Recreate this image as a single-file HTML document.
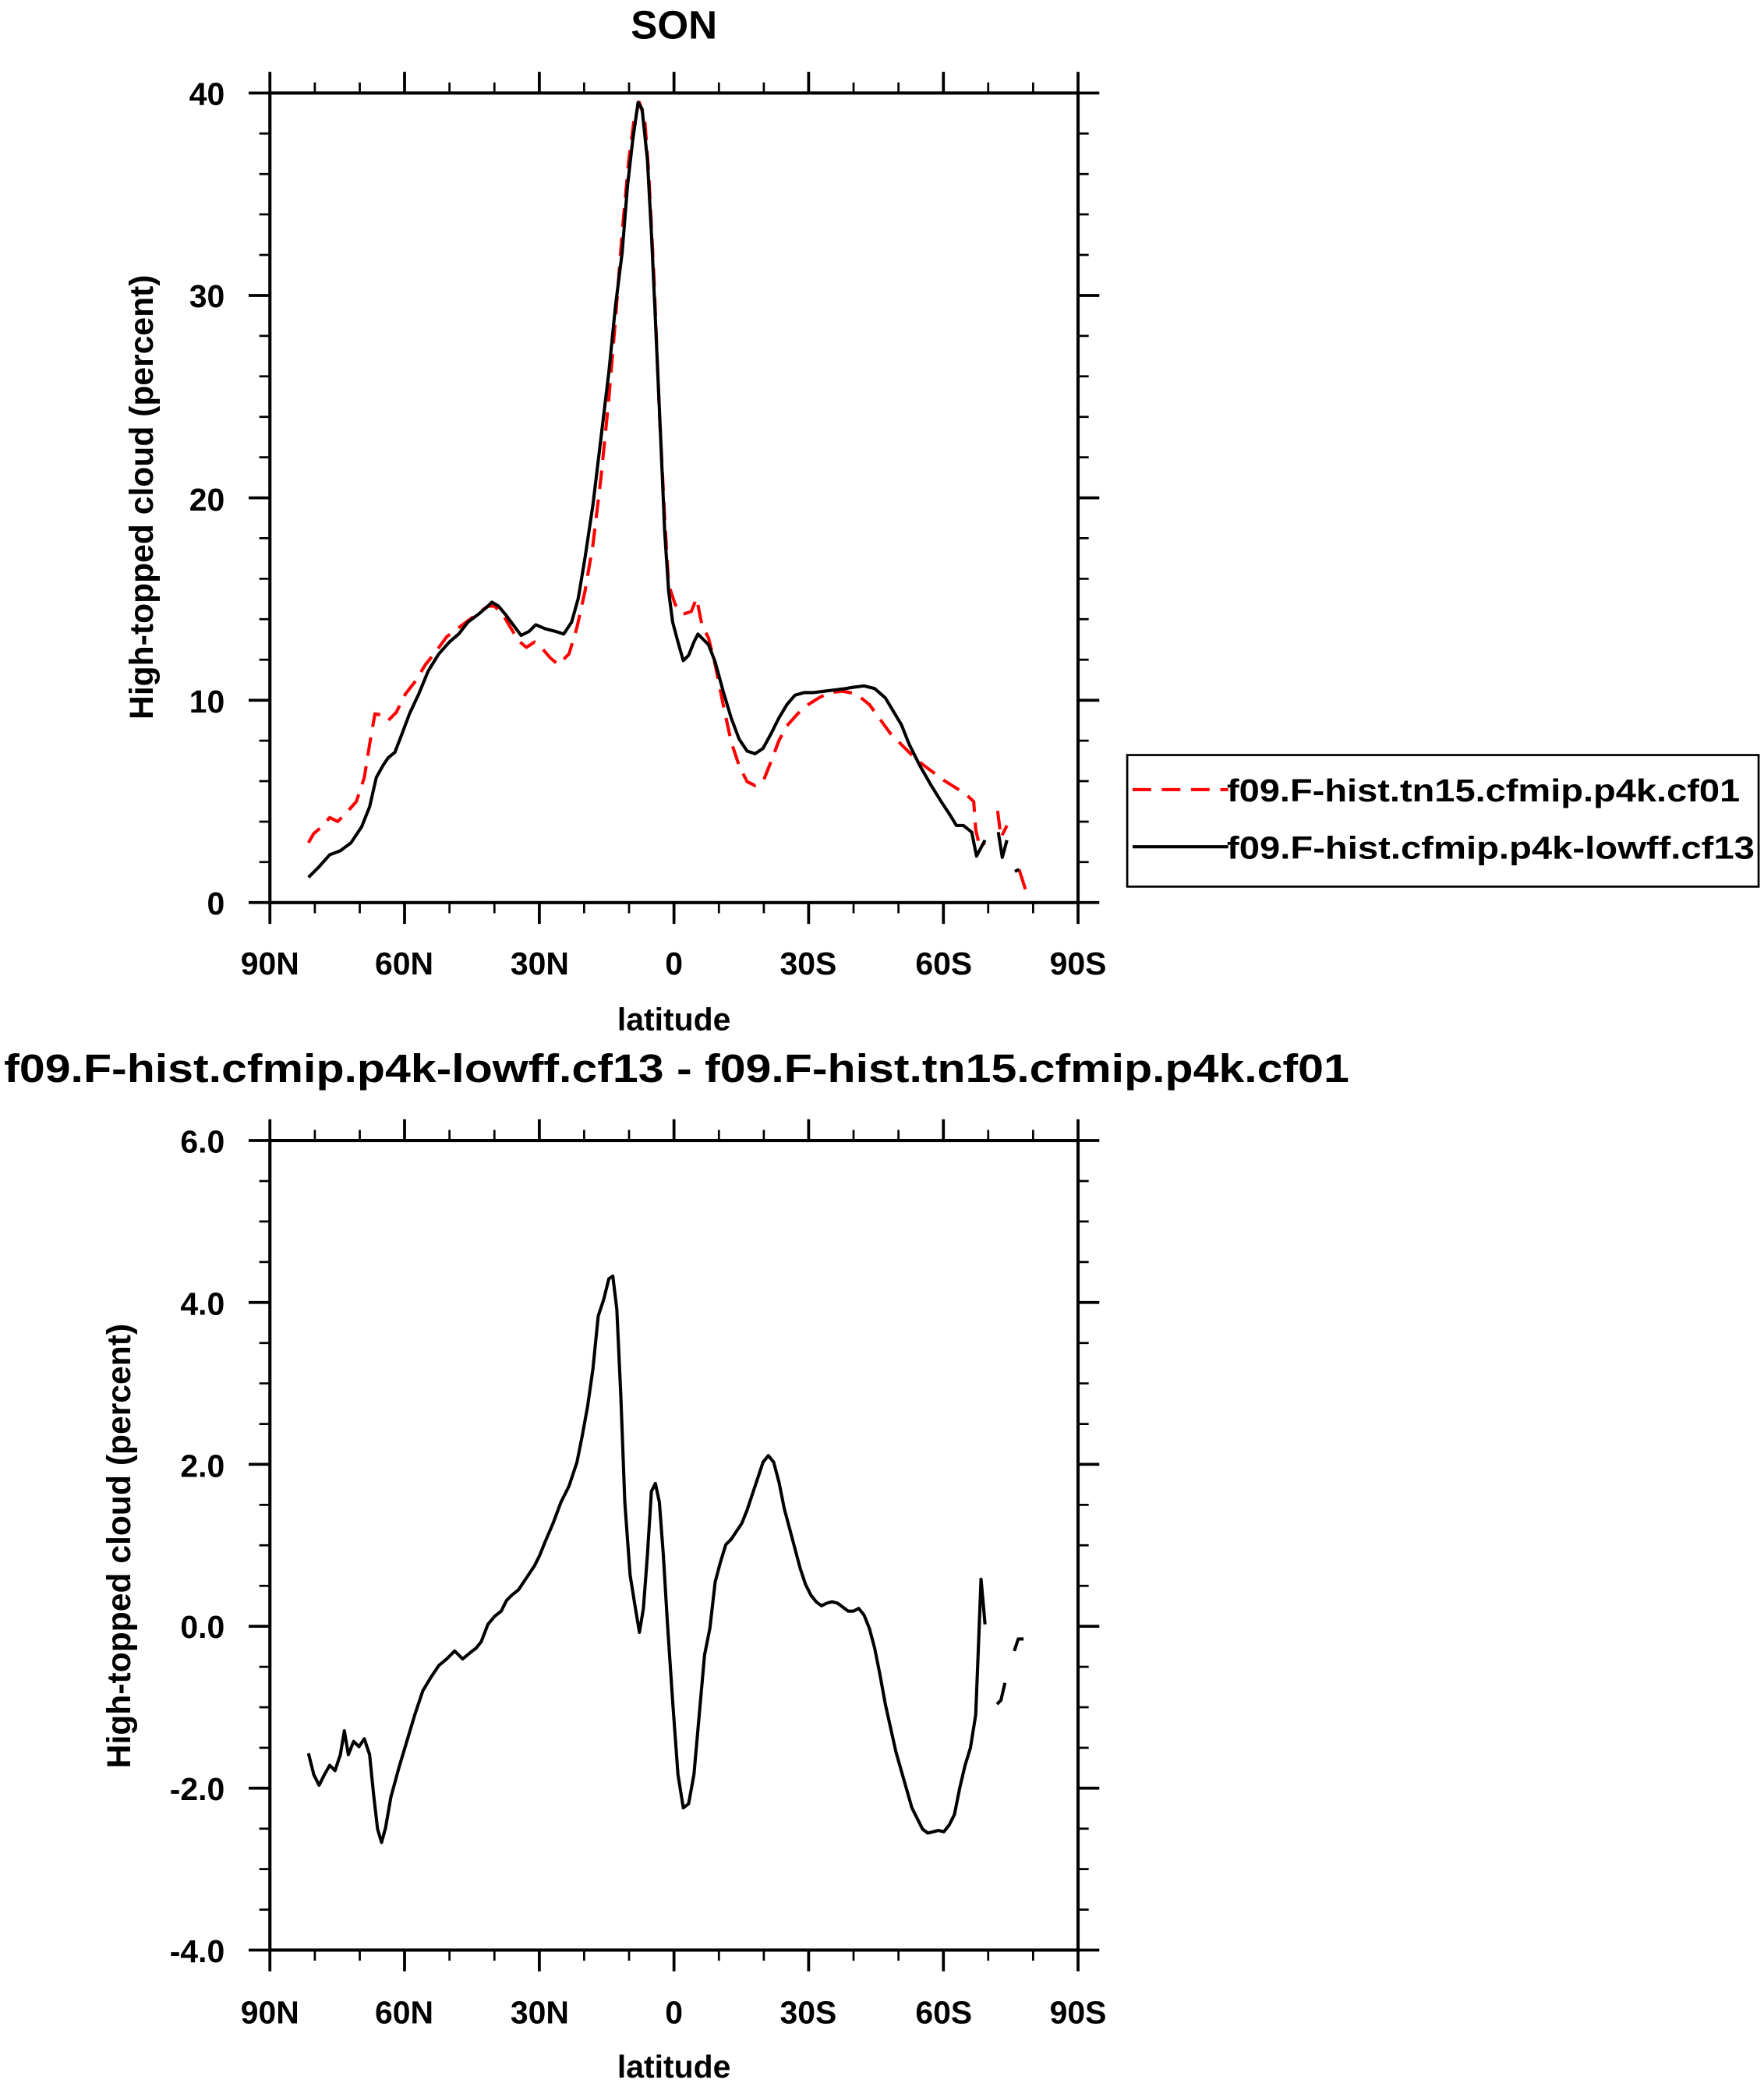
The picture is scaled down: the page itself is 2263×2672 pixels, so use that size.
<!DOCTYPE html>
<html><head><meta charset="utf-8"><style>
html,body{margin:0;padding:0;background:#fff;}
svg{display:block;}
text{font-family:"Liberation Sans",sans-serif;font-weight:bold;fill:#000;}
</style></head><body>
<svg width="2263" height="2672" viewBox="0 0 1327 1567" xmlns="http://www.w3.org/2000/svg">
<rect width="1327" height="1567" fill="#fff"/>
<g id="axes" stroke="#000" fill="none" stroke-linecap="butt">
<rect x="203" y="70" width="608" height="609" stroke-width="2.4"/>
<path stroke-width="2.2" d="
M203,679v16 M304.3,679v16 M405.7,679v16 M507,679v16 M608.3,679v16 M709.7,679v16 M811,679v16
M203,70v-16 M304.3,70v-16 M405.7,70v-16 M507,70v-16 M608.3,70v-16 M709.7,70v-16 M811,70v-16
M203,679h-16 M203,526.75h-16 M203,374.5h-16 M203,222.25h-16 M203,70h-16
M811,679h16 M811,526.75h16 M811,374.5h16 M811,222.25h16 M811,70h16"/>
<path stroke-width="1.6" d="
M236.8,679v8 M270.6,679v8 M338.1,679v8 M371.9,679v8 M439.4,679v8 M473.2,679v8 M540.8,679v8 M574.6,679v8 M642.1,679v8 M675.9,679v8 M743.4,679v8 M777.2,679v8
M236.8,70v-8 M270.6,70v-8 M338.1,70v-8 M371.9,70v-8 M439.4,70v-8 M473.2,70v-8 M540.8,70v-8 M574.6,70v-8 M642.1,70v-8 M675.9,70v-8 M743.4,70v-8 M777.2,70v-8
M203,648.5h-8 M203,618.1h-8 M203,587.6h-8 M203,557.2h-8 M203,496.3h-8 M203,465.8h-8 M203,435.4h-8 M203,404.9h-8 M203,344h-8 M203,313.6h-8 M203,283.1h-8 M203,252.7h-8 M203,191.8h-8 M203,161.3h-8 M203,130.9h-8 M203,100.4h-8
M811,648.5h8 M811,618.1h8 M811,587.6h8 M811,557.2h8 M811,496.3h8 M811,465.8h8 M811,435.4h8 M811,404.9h8 M811,344h8 M811,313.6h8 M811,283.1h8 M811,252.7h8 M811,191.8h8 M811,161.3h8 M811,130.9h8 M811,100.4h8"/>
<rect x="203" y="858" width="608" height="609" stroke-width="2.4"/>
<path stroke-width="2.2" d="
M203,1467v16 M304.3,1467v16 M405.7,1467v16 M507,1467v16 M608.3,1467v16 M709.7,1467v16 M811,1467v16
M203,858v-16 M304.3,858v-16 M405.7,858v-16 M507,858v-16 M608.3,858v-16 M709.7,858v-16 M811,858v-16
M203,1467h-16 M203,1345.2h-16 M203,1223.4h-16 M203,1101.6h-16 M203,979.8h-16 M203,858h-16
M811,1467h16 M811,1345.2h16 M811,1223.4h16 M811,1101.6h16 M811,979.8h16 M811,858h16"/>
<path stroke-width="1.6" d="
M236.8,1467v8 M270.6,1467v8 M338.1,1467v8 M371.9,1467v8 M439.4,1467v8 M473.2,1467v8 M540.8,1467v8 M574.6,1467v8 M642.1,1467v8 M675.9,1467v8 M743.4,1467v8 M777.2,1467v8
M236.8,858v-8 M270.6,858v-8 M338.1,858v-8 M371.9,858v-8 M439.4,858v-8 M473.2,858v-8 M540.8,858v-8 M574.6,858v-8 M642.1,858v-8 M675.9,858v-8 M743.4,858v-8 M777.2,858v-8
M203,1436.6h-8 M203,1406.1h-8 M203,1375.7h-8 M203,1314.8h-8 M203,1284.3h-8 M203,1253.9h-8 M203,1193h-8 M203,1162.5h-8 M203,1132.1h-8 M203,1071.2h-8 M203,1040.7h-8 M203,1010.3h-8 M203,949.4h-8 M203,918.9h-8 M203,888.5h-8
M811,1436.6h8 M811,1406.1h8 M811,1375.7h8 M811,1314.8h8 M811,1284.3h8 M811,1253.9h8 M811,1193h8 M811,1162.5h8 M811,1132.1h8 M811,1071.2h8 M811,1040.7h8 M811,1010.3h8 M811,949.4h8 M811,918.9h8 M811,888.5h8"/>
</g>

<g fill="none" stroke-width="2.4" stroke-linejoin="round">
<polyline stroke="#f00" stroke-dasharray="14,8" points="232,634 236,627 242,622 248,615 254,618 260,612 268,603 274,585 278,560 282,537 288,538 292,542 298,536 305,522 312,513 320,500 328,490 336,479 344,473 352,467 360,461 367,456 372,456 378,462 384,472 390,482 396,487 402,483 408,488 414,495 420,500 428,492 434,472 440,445 446,410 452,360 458,300 463,240 468,175 473,120 477,90 481,77 485,90 488,130 492,210 496,310 500,390 503,440 508,455 514,462 520,460 524,450 528,470 533,480 538,500 544,530 550,558 556,576 562,588 568,591 574,588 580,573 586,557 592,546 600,537 608,530 616,525 624,521 634,520 644,522 654,530 662,541 670,552 678,560 686,568 694,575 702,581 710,587 718,592 726,597 732.5,603 734,624 737,637 741,634"/>
<polyline stroke="#f00" stroke-dasharray="14,8" points="750.5,610 753,630 757.5,621"/>
<polyline stroke="#f00" points="766.6,654 771.4,669"/>
<polyline stroke="#000" points="232,660 240,652 248,643 256,640 264,634 272,622 278,607 283,585 288,576 292,570 297,566 302,553 308,537 315,522 322,505 330,492 338,483 345,477 352,468 360,462 367,456 370,453 375,456 380,462 386,470 392,478 398,475 403,470 410,473 418,475 424,477 430,468 435,450 440,420 446,380 452,330 458,280 463,230 468,190 472,140 476,105 480,77 483,82 487,120 490,175 493,240 497,330 500,400 503,445 506,468 510,483 514,497 518,493 522,483 525,477 528,480 533,485 538,498 544,520 550,540 556,556 562,565 568,567 574,563 580,552 586,540 592,530 598,523 605,521 612,521 620,520 628,519 636,518 642,517 650,516 658,518 666,525 672,535 678,545 684,560 692,576 700,590 708,603 714,612 719.5,621 724.7,621 731,626 734.6,644 741,632"/>
<polyline stroke="#000" points="751,626 754,645 757.5,632"/>
<polyline stroke="#000" points="763.5,655.6 766.6,654"/>
</g>

<g fill="none" stroke="#000" stroke-width="2.4" stroke-linejoin="round">
<polyline points="232,1319 236,1335 240,1343 244,1335 248,1328 252,1332 256,1320 259,1302 262,1320 266,1310 270,1314 274,1308 278,1320 281,1350 284,1376 287,1386 290,1375 294,1352 300,1330 306,1310 312,1290 318,1272 324,1262 330,1253 336,1248 342,1242 348,1248 354,1243 358,1240 362,1235 367,1222 372,1216 377,1212 381,1204 385,1200 390,1196 394,1190 398,1184 402,1178 406,1170 410,1160 416,1146 422,1130 428,1118 434,1100 438,1080 442,1058 446,1030 450,990 454,978 458,962 461,960 464,985 467,1050 470,1130 474,1185 478,1210 481,1228 484,1210 487,1170 490,1122 493,1116 496,1130 499,1170 502,1220 506,1280 510,1335 514,1360 518,1357 522,1335 526,1290 530,1245 534,1225 538,1190 542,1175 546,1162 550,1158 554,1152 558,1146 562,1136 566,1124 570,1112 574,1100 578,1095 582,1100 586,1115 590,1135 594,1150 598,1165 602,1180 606,1192 610,1200 614,1205 618,1208 622,1206 626,1205 630,1206 634,1209 638,1212 642,1212 646,1210 650,1215 654,1225 658,1240 662,1260 666,1282 670,1300 674,1318 678,1332 682,1346 686,1360 690,1368 694,1376 698,1379 702,1378 706,1377 710,1378 714,1373 718,1365 722,1345 726,1328 730,1315 734,1290 736,1240 738,1188 740,1210 741,1222"/>
<polyline points="750,1282 753,1279 756,1266"/>
<polyline points="763,1242 766,1233 770,1233"/>
</g>

<rect x="848" y="568" width="475" height="99" fill="#fff" stroke="#000" stroke-width="1.6"/>
<line x1="852" y1="594" x2="924" y2="594" stroke="#f00" stroke-width="2.4" stroke-dasharray="14,8"/>
<line x1="852" y1="637" x2="924" y2="637" stroke="#000" stroke-width="2.4"/>
<text x="923" y="603" font-size="24" textLength="386" lengthAdjust="spacingAndGlyphs">f09.F-hist.tn15.cfmip.p4k.cf01</text>
<text x="923" y="646" font-size="24" textLength="397" lengthAdjust="spacingAndGlyphs">f09.F-hist.cfmip.p4k-lowff.cf13</text>

<text x="507" y="29" font-size="30" text-anchor="middle">SON</text>
<text x="509" y="814" font-size="30" text-anchor="middle" textLength="1012" lengthAdjust="spacingAndGlyphs">f09.F-hist.cfmip.p4k-lowff.cf13 - f09.F-hist.tn15.cfmip.p4k.cf01</text>

<g font-size="24" text-anchor="end">
<text x="169" y="688">0</text><text x="169" y="536">10</text><text x="169" y="384">20</text><text x="169" y="231">30</text><text x="169" y="79">40</text>
<text x="169" y="1476">-4.0</text><text x="169" y="1354">-2.0</text><text x="169" y="1232">0.0</text><text x="169" y="1111">2.0</text><text x="169" y="989">4.0</text><text x="169" y="867">6.0</text>
</g>
<g font-size="24" text-anchor="middle">
<text x="203" y="733">90N</text><text x="304" y="733">60N</text><text x="406" y="733">30N</text><text x="507" y="733">0</text><text x="608" y="733">30S</text><text x="710" y="733">60S</text><text x="811" y="733">90S</text>
<text x="507" y="775">latitude</text>
<text x="203" y="1522">90N</text><text x="304" y="1522">60N</text><text x="406" y="1522">30N</text><text x="507" y="1522">0</text><text x="608" y="1522">30S</text><text x="710" y="1522">60S</text><text x="811" y="1522">90S</text>
<text x="507" y="1563">latitude</text>
<text transform="translate(115,374) rotate(-90)" font-size="25">High-topped cloud (percent)</text>
<text transform="translate(98,1163) rotate(-90)" font-size="25">High-topped cloud (percent)</text>
</g>
</svg>
</body></html>
